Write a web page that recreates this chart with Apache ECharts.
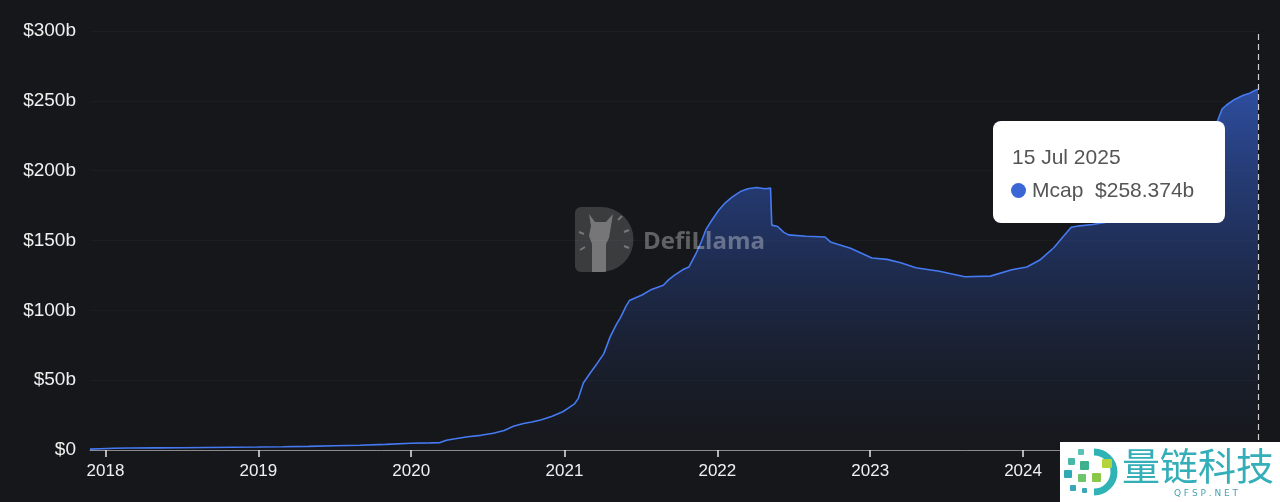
<!DOCTYPE html>
<html>
<head>
<meta charset="utf-8">
<script src="https://cdn.jsdelivr.net/npm/echarts@6/dist/echarts.min.js"></script>
<style>
html,body{margin:0;padding:0;background:#16171a;}
#chart{width:1280px;height:502px;}
</style>
</head>
<body>
<div id="chart"></div>
<script>
// ---- Data (values in billions USD) ----
const dates = [
 '2017-11-25','2017-12-20','2018-01-20','2018-03-01','2018-05-01','2018-07-01','2018-09-01','2018-11-01','2019-01-01',
 '2019-03-01','2019-05-01','2019-07-01','2019-09-01','2019-11-01','2020-01-01','2020-02-15','2020-03-10','2020-03-25',
 '2020-04-15','2020-05-15','2020-06-15','2020-07-15','2020-08-10','2020-09-01','2020-09-25','2020-10-15','2020-11-05',
 '2020-12-01','2020-12-28','2021-01-10','2021-01-25','2021-02-03','2021-02-15','2021-03-03','2021-03-20','2021-04-05',
 '2021-04-20','2021-05-05','2021-05-15','2021-05-28','2021-06-05','2021-06-20','2021-07-05','2021-07-28','2021-08-25',
 '2021-09-07','2021-09-20','2021-10-10','2021-10-25','2021-11-10','2021-11-25','2021-12-05','2021-12-20','2022-01-05',
 '2022-01-20','2022-02-05','2022-02-25','2022-03-15','2022-04-05','2022-04-25','2022-05-08','2022-05-11','2022-05-25',
 '2022-06-08','2022-06-20','2022-08-01','2022-09-15','2022-09-28','2022-11-15','2023-01-05','2023-02-10','2023-03-15',
 '2023-04-20','2023-06-15','2023-08-15','2023-10-15','2023-12-05','2024-01-10','2024-02-10','2024-03-15','2024-04-05',
 '2024-04-25','2024-05-15','2024-06-15','2024-07-15','2024-08-15','2024-09-15','2024-10-15','2024-11-15','2024-12-15',
 '2025-01-15','2025-02-15','2025-03-15','2025-04-10','2025-04-20','2025-05-01','2025-05-20','2025-06-10','2025-06-25',
 '2025-07-05','2025-07-15'
];
const mcap = [
 0.6,0.9,1.2,1.4,1.5,1.6,1.8,2.0,2.1,
 2.3,2.6,3.0,3.4,4.0,4.8,5.1,5.3,7.0,
 8.0,9.5,10.5,12.0,14.0,17.0,19.0,20.0,21.5,
 24.0,27.4,30.0,33.0,37.0,48.0,55.0,62.0,69.0,
 81.0,90.0,95.0,103.0,107.0,109.0,111.0,115.0,118.0,
 122.0,125.0,129.0,131.0,140.0,150.0,158.0,165.0,172.0,
 177.0,181.0,185.0,187.0,188.0,187.0,187.5,161.0,160.0,
 156.0,154.0,153.0,152.5,149.0,144.5,137.5,136.5,134.0,
 130.5,128.0,124.0,124.5,129.0,131.0,136.0,145.0,152.5,
 159.5,160.5,161.5,163.0,165.0,169.0,173.0,182.0,198.0,
 205.0,215.0,225.0,236.0,244.0,247.0,251.0,254.0,255.5,
 257.0,258.374
];
const yTicks = [0, 50, 100, 150, 200, 250, 300];
const seriesName = 'Mcap';

const months = ['Jan','Feb','Mar','Apr','May','Jun','Jul','Aug','Sep','Oct','Nov','Dec'];
function fmtDate(ts){
  const d = new Date(ts);
  return d.getUTCDate() + ' ' + months[d.getUTCMonth()] + ' ' + d.getUTCFullYear();
}
function toTs(s){ return Date.parse(s + 'T00:00:00Z'); }

const seriesData = dates.map((d, i) => [toTs(d), mcap[i]]);
const FONT = '"Liberation Sans", Arial, sans-serif';

const chart = echarts.init(document.getElementById('chart'), null, {renderer: 'canvas'});
const WM = 'rgba(255,255,255,0.3)';
const option = {
  backgroundColor: '#16171a',
  animation: false,
  grid: { left: 90, right: 22, top: 31, bottom: 52, containLabel: false },
  xAxis: {
    type: 'time',
    min: toTs(dates[0]),
    max: toTs(dates[dates.length - 1]),
    minInterval: 365 * 24 * 3600 * 1000,
    splitLine: { show: false },
    axisLine: { show: true, lineStyle: { color: '#8a8b8e', width: 1 } },
    axisTick: { show: true, length: 7, lineStyle: { color: '#e8e8e8', width: 1.5 } },
    axisLabel: {
      color: '#f0f0f0', fontSize: 17, fontFamily: FONT, margin: 13,
      formatter: function (v) { return new Date(v).getUTCFullYear() + ''; },
      showMinLabel: false, showMaxLabel: false
    }
  },
  yAxis: {
    type: 'value',
    min: yTicks[0], max: yTicks[yTicks.length - 1], interval: 50,
    axisLine: { show: false }, axisTick: { show: false },
    splitLine: { show: true, lineStyle: { color: '#1c1d21', width: 1 } },
    axisLabel: {
      color: '#f0f0f0', fontSize: 19, fontFamily: FONT, margin: 14,
      formatter: function (v) { return v === 0 ? '$0' : '$' + v + 'b'; }
    }
  },
  tooltip: {
    trigger: 'axis',
    alwaysShowContent: true,
    triggerOn: 'none',
    transitionDuration: 0,
    backgroundColor: '#ffffff',
    borderWidth: 0,
    borderRadius: 8,
    padding: 0,
    extraCssText: 'box-shadow:none;',
    position: function () { return [993, 121]; },
    axisPointer: {
      type: 'line',
      lineStyle: { color: '#d0d0d0', type: [6, 4], width: 1.2 },
      label: { show: false }
    },
    formatter: function (params) {
      const p = params[0];
      const v = p.value[1];
      return '<div style="position:relative;width:232px;height:102px;font-family:' + FONT.replace(/"/g, "'") + ';color:#555;">' +
        '<div style="position:absolute;left:19px;top:22px;font-size:21px;line-height:27px;white-space:nowrap;">' + fmtDate(p.value[0]) + '</div>' +
        '<div style="position:absolute;left:18px;top:55px;font-size:21px;line-height:28px;white-space:nowrap;">' +
        '<span style="display:inline-block;width:15px;height:15px;border-radius:50%;background:#3a66d6;vertical-align:-1px;margin-right:6px;"></span>' +
        p.seriesName + '&nbsp;&nbsp;$' + v.toFixed(3) + 'b</div></div>';
    }
  },
  series: [{
    name: seriesName,
    type: 'line',
    data: seriesData,
    showSymbol: false,
    symbol: 'none',
    lineStyle: { color: '#3f6fdc', width: 1.6 },
    itemStyle: { color: '#3a66d6' },
    areaStyle: {
      color: new echarts.graphic.LinearGradient(0, 0, 0, 1, [
        { offset: 0, color: 'rgba(52,96,205,0.95)' },
        { offset: 0.45, color: 'rgba(40,72,155,0.6)' },
        { offset: 1, color: 'rgba(30,45,80,0.05)' }
      ])
    }
  }],
  graphic: [
    // DefiLlama watermark
    { type: 'rect', z: 50, silent: true, shape: { x: 575, y: 207, width: 26, height: 65, r: [6, 0, 0, 6] },
      style: { fill: 'rgba(255,255,255,0.16)' } },
    { type: 'sector', z: 50, silent: true,
      shape: { cx: 601, cy: 239.5, r0: 0, r: 32.5, startAngle: -Math.PI / 2, endAngle: Math.PI / 2, clockwise: true },
      style: { fill: 'rgba(255,255,255,0.16)' } },
    { type: 'polygon', z: 51, silent: true,
      shape: { points: [[589,214],[595,222],[606,222],[613,214],[611,226],[609,238],[606,244],[606,272],[592,272],[592,244],[589,236],[591,226]] },
      style: { fill: WM } },
    { type: 'line', z: 51, silent: true, shape: { x1: 618, y1: 220, x2: 622, y2: 216 }, style: { stroke: WM, lineWidth: 2 } },
    { type: 'line', z: 51, silent: true, shape: { x1: 624, y1: 232, x2: 629, y2: 230 }, style: { stroke: WM, lineWidth: 2 } },
    { type: 'line', z: 51, silent: true, shape: { x1: 624, y1: 246, x2: 629, y2: 248 }, style: { stroke: WM, lineWidth: 2 } },
    { type: 'line', z: 51, silent: true, shape: { x1: 579, y1: 232, x2: 584, y2: 234 }, style: { stroke: WM, lineWidth: 2 } },
    { type: 'line', z: 51, silent: true, shape: { x1: 580, y1: 250, x2: 585, y2: 247 }, style: { stroke: WM, lineWidth: 2 } },
    { type: 'text', z: 51, silent: true, x: 643, y: 242,
      style: { text: 'DefiLlama', fill: 'rgba(255,255,255,0.32)', font: 'bold 24px "Open Sans", "DejaVu Sans", sans-serif', verticalAlign: 'middle' } },
    // bottom-right watermark
    { type: 'rect', z: 200, silent: true, shape: { x: 1060, y: 442, width: 220, height: 60 }, style: { fill: '#ffffff' } },
    { type: 'arc', z: 201, silent: true,
      shape: { cx: 1094, cy: 472, r: 20, startAngle: -Math.PI * 0.5, endAngle: Math.PI * 0.5, clockwise: true },
      style: { stroke: '#2fb3b5', lineWidth: 7, fill: null } },
    { type: 'rect', z: 202, silent: true, shape: { x: 1068, y: 458, width: 7, height: 7, r: 1 }, style: { fill: '#47b7a6' } },
    { type: 'rect', z: 202, silent: true, shape: { x: 1078, y: 449, width: 6, height: 6, r: 1 }, style: { fill: '#5cc2b8' } },
    { type: 'rect', z: 202, silent: true, shape: { x: 1080, y: 461, width: 9, height: 9, r: 1 }, style: { fill: '#3fb08c' } },
    { type: 'rect', z: 202, silent: true, shape: { x: 1064, y: 470, width: 8, height: 8, r: 1 }, style: { fill: '#2fa9b3' } },
    { type: 'rect', z: 202, silent: true, shape: { x: 1078, y: 474, width: 8, height: 8, r: 1 }, style: { fill: '#6fc56b' } },
    { type: 'rect', z: 202, silent: true, shape: { x: 1092, y: 473, width: 9, height: 9, r: 1 }, style: { fill: '#8ac84a' } },
    { type: 'rect', z: 202, silent: true, shape: { x: 1102, y: 459, width: 10, height: 9, r: 1 }, style: { fill: '#b5d33a' } },
    { type: 'rect', z: 202, silent: true, shape: { x: 1070, y: 485, width: 6, height: 6, r: 1 }, style: { fill: '#3aa6b8' } },
    { type: 'rect', z: 202, silent: true, shape: { x: 1082, y: 488, width: 5, height: 5, r: 1 }, style: { fill: '#3aa6b8' } },
    { type: 'text', z: 202, silent: true, x: 1198, y: 466,
      style: { text: '量链科技', fill: '#34aeb8', font: '38px "Noto Sans CJK SC", sans-serif', align: 'center', verticalAlign: 'middle' } },
    { type: 'text', z: 202, silent: true, x: 1206, y: 494,
      style: { text: 'Q F S P . N E T', fill: '#4aa0b0', font: '9px "DejaVu Sans", sans-serif', align: 'center', verticalAlign: 'middle' } }
  ]
};
chart.setOption(option);
chart.dispatchAction({ type: 'showTip', seriesIndex: 0, dataIndex: seriesData.length - 1 });
</script>
</body>
</html>
